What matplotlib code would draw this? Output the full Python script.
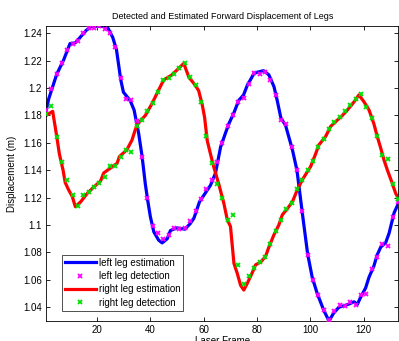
import matplotlib
matplotlib.use("Agg")
import matplotlib.pyplot as plt
import numpy as np

plt.rcParams['font.family'] = ['Liberation Sans', 'DejaVu Sans']

# Left leg estimation (frame, displacement)
left_est_frames = [1, 2, 4, 5, 7.6, 10, 12, 14, 16, 18, 20, 22, 24, 26, 27.4, 29, 30, 32.5, 34,
                   35.7, 37, 38.2, 39.1, 40.1, 41.4, 43.2, 44.5, 46.4, 47.6, 50, 53, 55, 56.4,
                   58.5, 62.6, 64.5, 66.4, 68.2, 69.5, 71.4, 73.2, 75, 76.4, 79, 82.5, 84.5,
                   86.4, 87.6, 89, 90.7, 92, 93.3, 95, 97, 99, 100.7, 102.6, 105, 107, 108.8,
                   110.7, 114, 116.4, 117.6, 119, 120.7, 122, 123.8, 125, 126.4, 128.2, 129.5,
                   131.4, 133.5]
left_est_vals = [1.183, 1.192, 1.204, 1.210, 1.2205, 1.2325, 1.233, 1.2375, 1.242, 1.245, 1.245,
                 1.245, 1.2445, 1.237, 1.228, 1.206, 1.197, 1.191, 1.184, 1.167, 1.150, 1.130,
                 1.118, 1.106, 1.095, 1.089, 1.087, 1.090, 1.096, 1.098, 1.097, 1.101, 1.105,
                 1.117, 1.129, 1.138, 1.157, 1.167, 1.174, 1.182, 1.191, 1.195, 1.202, 1.211,
                 1.2127, 1.2096, 1.201, 1.191, 1.178, 1.173, 1.164, 1.155, 1.140, 1.109, 1.079,
                 1.062, 1.050, 1.038, 1.030, 1.036, 1.040, 1.042, 1.044, 1.042, 1.048, 1.054,
                 1.062, 1.070, 1.078, 1.084, 1.087, 1.094, 1.109, 1.118]

# Right leg estimation (frame, displacement)
right_est_frames = [1, 3.5, 5, 6, 7.4, 8.2, 9.5, 10.8, 12, 14, 16.4, 19, 21.4, 22.6, 24, 27.6,
                    28.5, 31.3, 33.2, 35, 38.2, 40.8, 43.2, 45.1, 48.2, 50.7, 52.6, 54.5, 57,
                    58.2, 59.5, 60.4, 61.4, 62.6, 63.9, 65.7, 67.6, 68.9, 70.1, 71.4, 72.6, 73.9,
                    75.1, 76.4, 78.2, 79.5, 81.4, 83.2, 84.5, 86.4, 88.2, 89.5, 91.4, 93.3, 95.1,
                    97, 98.9, 100.1, 102, 103.2, 105.7, 107.6, 109.5, 112, 113.9, 116.4, 118.2,
                    120.1, 122, 123.8, 125.1, 126.4, 127.6, 128.9, 130.7, 132, 133.5]
right_est_vals = [1.180, 1.183, 1.165, 1.152, 1.140, 1.131, 1.1256, 1.121, 1.1134, 1.117, 1.123,
                  1.128, 1.132, 1.138, 1.140, 1.145, 1.150, 1.155, 1.162, 1.173, 1.180, 1.189,
                  1.1986, 1.206, 1.2096, 1.2144, 1.218, 1.208, 1.2018, 1.198, 1.188, 1.1787,
                  1.1616, 1.152, 1.142, 1.130, 1.116, 1.104, 1.099, 1.072, 1.065, 1.056, 1.0526,
                  1.0575, 1.065, 1.071, 1.073, 1.077, 1.084, 1.093, 1.100, 1.1074, 1.112, 1.117,
                  1.1256, 1.133, 1.139, 1.1426, 1.152, 1.1585, 1.1645, 1.172, 1.1755, 1.180,
                  1.184, 1.190, 1.195, 1.190, 1.184, 1.174, 1.1645, 1.156, 1.1475, 1.140, 1.1305,
                  1.123, 1.118]

# Detections at odd frames
det_frames = list(range(1, 134, 2))
left_det = [1.184, 1.199, 1.210, 1.218, 1.228, 1.232, 1.234, 1.240, 1.244, 1.244, 1.245, 1.243,
            1.240, 1.230, 1.207, 1.192, 1.191, 1.176, 1.150, 1.120, 1.099, 1.094, 1.090, 1.093,
            1.098, 1.097, 1.098, 1.103, 1.110, 1.119, 1.126, 1.133, 1.146, 1.160, 1.172, 1.180,
            1.190, 1.193, 1.203, 1.211, 1.210, 1.212, 1.206, 1.195, 1.177, 1.174, 1.157, 1.140,
            1.110, 1.078, 1.060, 1.049, 1.038, 1.031, 1.037, 1.042, 1.041, 1.044, 1.042, 1.049,
            1.050, 1.068, 1.077, 1.086, 1.085, 1.106, 1.117]
right_det = [1.181, 1.187, 1.164, 1.146, 1.133, 1.122, 1.114, 1.122, 1.124, 1.128, 1.131, 1.135,
             1.143, 1.143, 1.150, 1.155, 1.153, 1.172, 1.177, 1.183, 1.189, 1.197, 1.206, 1.207,
             1.210, 1.215, 1.218, 1.208, 1.202, 1.190, 1.165, 1.145, 1.130, 1.120, 1.104, 1.107,
             1.071, 1.057, 1.063, 1.069, 1.073, 1.077, 1.086, 1.096, 1.104, 1.112, 1.116, 1.126,
             1.133, 1.140, 1.147, 1.157, 1.163, 1.170, 1.175, 1.179, 1.183, 1.188, 1.192, 1.196,
             1.186, 1.178, 1.165, 1.151, 1.148, 1.130, 1.119]

x_ticks = [20, 40, 60, 80, 100, 120]
y_ticks = [1.04, 1.06, 1.08, 1.1, 1.12, 1.14, 1.16, 1.18, 1.2, 1.22, 1.24]
y_tick_labels = ['1.04', '1.06', '1.08', '1.1', '1.12', '1.14', '1.16', '1.18', '1.2', '1.22', '1.24']

fig = plt.figure(figsize=(3.99, 3.41), dpi=100)
ax = fig.add_axes([46/399, 20/341, 352.4/399, 295/341])

ax.plot(left_est_frames, left_est_vals, color='#0000ff', lw=2.3, label='left leg estimation', zorder=2)
ax.plot(det_frames, left_det, ls='none', marker='x', ms=2.6, mew=1.3, color='#ff00ff',
        label='left leg detection', zorder=3)
ax.plot(right_est_frames, right_est_vals, color='#ff0000', lw=2.3, label='right leg estimation', zorder=2)
ax.plot(det_frames, right_det, ls='none', marker='x', ms=2.6, mew=1.3, color='#00e000',
        label='right leg detection', zorder=3)

ax.set_xlim(1, 133)
ax.set_ylim(1.03, 1.2453)
ax.set_xticks(x_ticks)
ax.set_yticks(y_ticks)
ax.set_yticklabels(y_tick_labels)
ax.tick_params(direction='in', top=True, right=True, labelsize=7, length=3, width=0.6, pad=3)
for s in ax.spines.values():
    s.set_linewidth(0.6)

ax.set_title('Detected and Estimated Forward Displacement of Legs', fontsize=6.5, pad=5)
ax.set_xlabel('Laser Frame', fontsize=7, labelpad=0.5)
ax.set_ylabel('Displacement (m)', fontsize=7, labelpad=4)

leg = ax.legend(loc='lower left', bbox_to_anchor=(0.045, 0.035), fontsize=7, frameon=True,
                fancybox=False, edgecolor='black', handlelength=3.2, handletextpad=0.3,
                borderpad=0.3, labelspacing=0.35, borderaxespad=0)
leg.get_frame().set_linewidth(0.6)

fig.savefig('out.png', dpi=100)
